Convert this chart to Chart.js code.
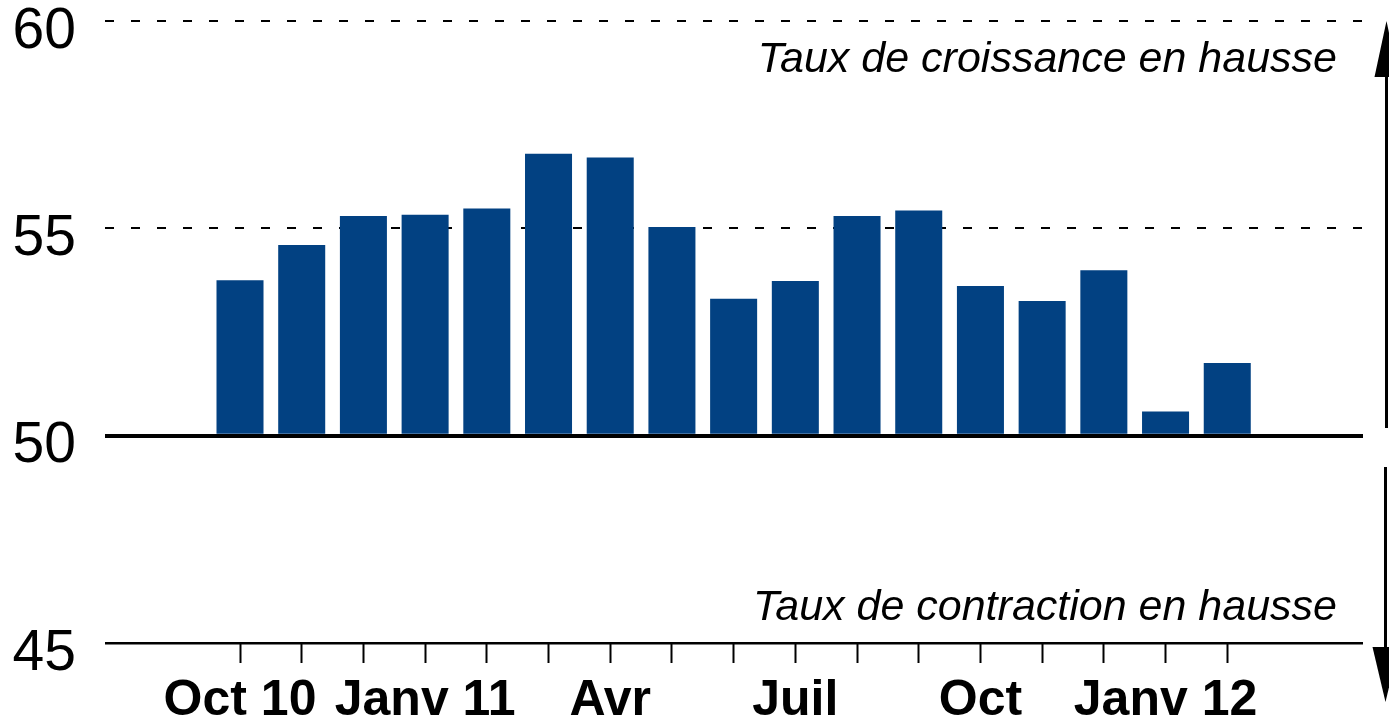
<!DOCTYPE html>
<html lang="fr">
<head>
<meta charset="utf-8">
<title>Indice PMI</title>
<script src="https://cdn.jsdelivr.net/npm/chart.js@4/dist/chart.umd.min.js"></script>
<style>
  html, body { margin: 0; padding: 0; background: #fff; }
  #wrap { width: 1389px; height: 719px; position: relative; }
</style>
</head>
<body>
<div id="wrap"><canvas id="chart"></canvas></div>
<script>
// Données
const months = ['Oct 10', 'Nov', 'Déc', 'Janv 11', 'Févr', 'Mars', 'Avr', 'Mai', 'Juin',
  'Juil', 'Août', 'Sept', 'Oct', 'Nov', 'Déc', 'Janv 12', 'Févr'];
const values = [53.75, 54.6, 55.3, 55.33, 55.48, 56.8, 56.71, 55.03, 53.3,
  53.73, 55.3, 55.43, 53.61, 53.25, 53.99, 50.58, 51.75];
const tickLabels = ['Oct 10', '', '', 'Janv 11', '', '', 'Avr', '', '', 'Juil', '', '', 'Oct', '', '', 'Janv 12', ''];
const yTicks = [45, 50, 55, 60];

const FONT = '"Liberation Sans", Arial, Helvetica, sans-serif';

// Flèches et textes à droite
const annotations = {
  id: 'annotations',
  afterDraw(chart) {
    const ctx = chart.ctx;
    const area = chart.chartArea;
    ctx.save();
    ctx.fillStyle = '#000';
    ctx.font = 'italic 43px ' + FONT;
    ctx.textAlign = 'right';
    ctx.textBaseline = 'alphabetic';
    ctx.fillText('Taux de croissance en hausse', area.right - 26, 72);
    ctx.fillText('Taux de contraction en hausse', area.right - 26, 620);

    const ax = chart.width - 2.5;
    ctx.strokeStyle = '#000';
    ctx.lineWidth = 3;
    // flèche vers le haut
    ctx.beginPath();
    ctx.moveTo(ax, 428);
    ctx.lineTo(ax, 70);
    ctx.stroke();
    ctx.beginPath();
    ctx.moveTo(ax, 21);
    ctx.lineTo(ax - 12, 77);
    ctx.lineTo(ax + 12, 77);
    ctx.closePath();
    ctx.fill();
    // flèche vers le bas
    ctx.beginPath();
    ctx.moveTo(ax - 1, 467);
    ctx.lineTo(ax - 1, 655);
    ctx.stroke();
    ctx.beginPath();
    ctx.moveTo(ax - 1, 702);
    ctx.lineTo(ax - 14, 647);
    ctx.lineTo(ax + 12, 647);
    ctx.closePath();
    ctx.fill();
    ctx.restore();
  }
};

new Chart(document.getElementById('chart'), {
  type: 'bar',
  data: {
    datasets: [{
      label: 'PMI',
      data: values.map((v, i) => ({ x: i, y: v })),
      base: 50,
      backgroundColor: '#024182',
      borderWidth: 0,
      categoryPercentage: 1,
      barPercentage: 0.762
    }]
  },
  options: {
    responsive: true,
    maintainAspectRatio: false,
    animation: false,
    layout: { padding: { left: 13, right: 26, top: 21, bottom: 0 } },
    plugins: {
      legend: { display: false },
      tooltip: { enabled: false }
    },
    scales: {
      x: {
        type: 'linear',
        min: -2.188,
        max: 18.2,
        offset: false,
        afterBuildTicks: axis => { axis.ticks = months.map((m, i) => ({ value: i })); },
        afterFit: axis => {
          axis.height = 76;
          axis.paddingLeft = 0;
          axis.paddingRight = 0;
        },
        grid: {
          offset: false,
          drawOnChartArea: false,
          drawTicks: true,
          tickLength: 20,
          tickWidth: 2,
          tickColor: '#000'
        },
        border: { display: false },
        ticks: {
          autoSkip: false,
          maxRotation: 0,
          padding: 16,
          color: '#000',
          font: { family: FONT, size: 50, weight: 'bold', lineHeight: 0.9 },
          callback: v => tickLabels[v] ?? ''
        }
      },
      y: {
        min: 45,
        max: 60,
        afterBuildTicks: axis => { axis.ticks = yTicks.map(v => ({ value: v })); },
        afterFit: axis => {
          axis.width = 92;
          axis.paddingTop = 0;
          axis.paddingBottom = 0;
        },
        grid: {
          drawTicks: false,
          color: '#000',
          lineWidth: c => c.tick && c.tick.value === 50 ? 4 : (c.tick && c.tick.value === 45 ? 2.5 : 2)
        },
        border: {
          display: false,
          dash: c => c.tick && (c.tick.value === 55 || c.tick.value === 60) ? [9, 17] : []
        },
        ticks: {
          padding: 29,
          labelOffset: 11,
          color: '#000',
          font: { family: FONT, size: 57, lineHeight: 0.7 }
        }
      }
    }
  },
  plugins: [annotations]
});
</script>
</body>
</html>
